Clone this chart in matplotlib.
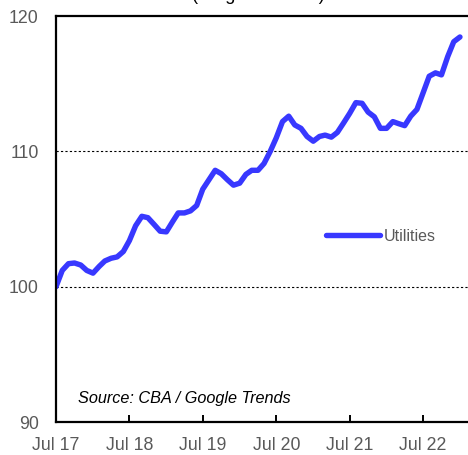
import matplotlib
matplotlib.use("Agg")
import matplotlib.pyplot as plt
import matplotlib.dates as mdates
import pandas as pd

plt.rcParams['font.family'] = ['Liberation Sans', 'DejaVu Sans']

# monthly index, Jul 2017 .. Jan 2023
months = pd.date_range('2017-07-01', periods=67, freq='MS')
utilities = [100.0, 101.2, 101.7, 101.75, 101.6, 101.2, 101.0, 101.5, 101.9, 102.1,
             102.2, 102.6, 103.4, 104.5, 105.2, 105.1, 104.6, 104.1, 104.05, 104.8,
             105.45, 105.45, 105.6, 106.0, 107.2, 107.9, 108.6, 108.35, 107.9, 107.5,
             107.65, 108.3, 108.6, 108.6, 109.1, 110.0, 111.0, 112.2, 112.6, 111.95,
             111.7, 111.1, 110.75, 111.1, 111.2, 111.05, 111.4, 112.1, 112.8, 113.6,
             113.55, 112.9, 112.55, 111.7, 111.7, 112.2, 112.05, 111.9, 112.6, 113.1,
             114.3, 115.55, 115.8, 115.65, 117.0, 118.1, 118.45]
tick_dates = pd.date_range('2017-07-01', periods=6, freq='12MS')

fig = plt.figure(figsize=(4.68, 4.55), dpi=100)
ax = fig.add_axes([0.1197, 0.0725, 0.8803, 0.8923])

ax.plot(months, utilities, color='#3838FF', linewidth=3.9, solid_capstyle='round',
        label='Utilities')

ax.set_ylim(90, 120)
ax.set_yticks([90, 100, 110, 120])
ax.set_xlim(pd.Timestamp('2017-07-01'), pd.Timestamp('2023-02-10'))
ax.set_xticks(tick_dates)
ax.xaxis.set_major_formatter(mdates.DateFormatter('%b %y'))

for y in [100, 110]:
    ax.axhline(y, color='black', linewidth=0.8, linestyle=(0, (2, 2)), zorder=0)

for s in ['left', 'bottom', 'top']:
    ax.spines[s].set_linewidth(1.6)
ax.spines['right'].set_visible(False)

ax.tick_params(axis='x', direction='in', length=5, width=1.4, pad=11,
               labelsize=12.8, labelcolor='#595959')
ax.tick_params(axis='y', length=0, pad=12.5, labelsize=12.8, labelcolor='#595959')

ax.text(0.0534, 0.0567, 'Source: CBA / Google Trends', transform=ax.transAxes,
        fontsize=11.7, style='italic', color='black', va='center')

fig.text(0.552, 0.999, '(weighted index)', ha='center', va='baseline', fontsize=13,
         color='black')

ax.legend(loc='center left', bbox_to_anchor=(0.6966, 0.4813),
          bbox_transform=fig.transFigure, frameon=False, fontsize=11.5,
          handlelength=3.4, handletextpad=0.2, borderpad=0, borderaxespad=0,
          labelcolor='#595959')

fig.savefig('out.png', dpi=100)
